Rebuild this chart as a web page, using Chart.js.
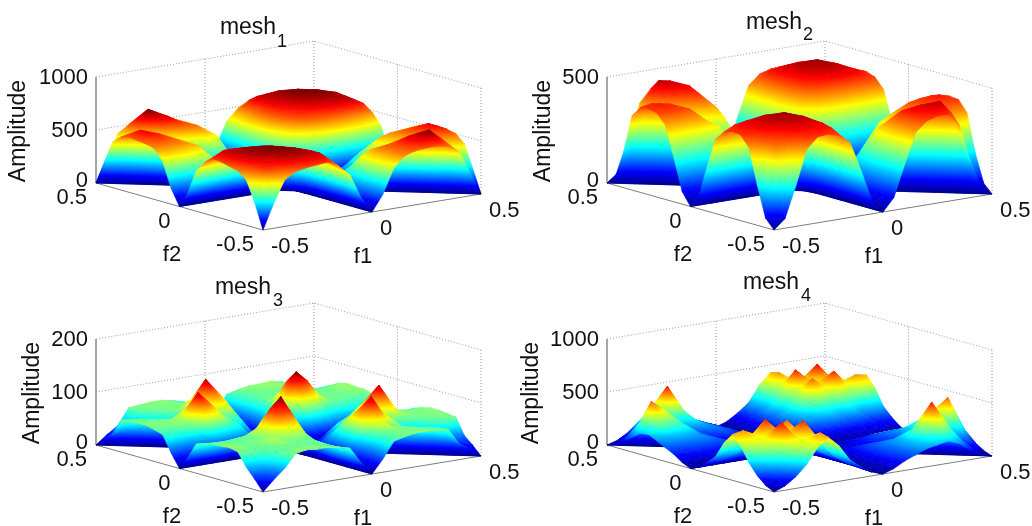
<!DOCTYPE html>
<html>
<head>
<meta charset="utf-8">
<title>mesh</title>
<script src="https://cdn.jsdelivr.net/npm/chart.js@4/dist/chart.umd.min.js"></script>
<style>
  html, body { margin: 0; background: #fff; overflow: hidden; }
  canvas { position: absolute; }
</style>
</head>
<body>
<script>
// distance from the valley (|f1| on rows, |f2| on columns)
const fGrid = [0, 0.05, 0.1, 0.15, 0.2, 0.25, 0.3, 0.35, 0.4, 0.45, 0.5];
const f1Ticks = [-0.5, 0, 0.5];
const f2Ticks = [-0.5, 0, 0.5];
const mesh1Ticks = [0, 500, 1000];
const mesh2Ticks = [0, 500];
const mesh3Ticks = [0, 100, 200];
const mesh4Ticks = [0, 500, 1000];

// "Front": f1 and f2 same sign, "Side": opposite sign (zero along its diagonal)
const mesh1Front = [
  [0,0,0,0,0,0,0,0,0,0,0],
  [0,40,90,150,180,190,200,200,190,170,150],
  [0,90,220,330,390,420,430,430,420,400,380],
  [0,150,330,440,490,510,520,520,510,500,480],
  [0,180,390,490,540,550,570,590,600,600,540],
  [0,190,420,510,550,590,610,625,630,610,530],
  [0,200,430,520,570,610,635,650,645,620,520],
  [0,200,430,520,590,625,650,650,640,600,500],
  [0,190,420,510,600,630,645,640,600,560,440],
  [0,170,400,500,600,610,620,600,560,540,240],
  [0,150,380,480,540,530,510,490,430,240,0]
];
const mesh1Side = [
  [0,0,0,0,0,0,0,0,0,0,0],
  [0,0,40,80,120,160,180,190,190,170,150],
  [0,40,0,130,220,300,400,410,410,400,380],
  [0,80,130,0,180,360,450,490,490,490,480],
  [0,120,220,190,0,200,400,510,530,530,510],
  [0,150,300,340,200,0,240,480,590,590,520],
  [0,170,360,440,400,210,0,260,580,650,520],
  [0,180,390,470,490,420,220,0,260,560,500],
  [0,180,400,480,520,540,470,240,0,300,430],
  [0,170,400,490,530,570,570,480,260,0,220],
  [0,150,380,480,500,510,520,500,430,220,0]
];
const mesh2Front = [
  [0,0,0,0,0,0,0,0,0,0,0],
  [0,15,40,60,70,75,75,75,70,65,60],
  [0,40,100,160,190,205,210,210,205,205,210],
  [0,60,160,260,320,345,350,355,355,350,350],
  [0,70,190,320,390,415,425,430,430,420,395],
  [0,75,205,345,415,445,455,460,450,430,410],
  [0,75,210,350,425,455,475,470,455,425,405],
  [0,75,210,355,430,460,470,470,445,415,355],
  [0,70,205,355,430,450,455,445,420,390,190],
  [0,65,205,350,420,430,425,415,390,370,45],
  [0,60,210,350,395,410,405,355,190,45,0]
];
const mesh2Side = [
  [0,0,0,0,0,0,0,0,0,0,0],
  [0,0,40,60,70,75,75,75,70,65,60],
  [0,40,0,110,160,190,205,210,205,205,210],
  [0,60,110,0,190,300,340,355,355,350,350],
  [0,70,160,190,0,200,350,410,430,420,395],
  [0,75,190,300,200,0,220,380,440,450,410],
  [0,75,205,330,340,220,0,240,430,460,410],
  [0,75,210,345,390,370,240,0,250,400,350],
  [0,70,205,350,400,410,380,230,0,240,170],
  [0,65,205,350,405,420,410,350,200,0,40],
  [0,60,210,350,395,405,400,350,170,40,0]
];
const mesh3Front = [
  [0,0,0,0,0,0,0,0,0,0,0],
  [0,8,20,26,26,25,22,20,20,22,25],
  [0,20,48,75,70,52,50,50,50,52,55],
  [0,26,75,125,105,75,62,60,58,58,60],
  [0,26,70,105,100,72,62,60,60,62,64],
  [0,25,52,75,72,68,64,62,60,64,64],
  [0,22,50,62,62,64,70,62,60,64,66],
  [0,20,50,60,60,62,62,60,58,60,62],
  [0,20,50,58,60,60,60,58,50,42,38],
  [0,22,52,58,62,64,64,60,42,25,20],
  [0,25,55,60,64,64,66,62,38,20,0]
];
const mesh3Side = [
  [0,0,0,0,0,0,0,0,0,0,0],
  [0,0,16,24,26,28,26,22,20,22,25],
  [0,16,0,45,65,80,85,60,50,52,55],
  [0,24,50,0,70,95,118,80,62,60,60],
  [0,26,60,70,0,65,85,66,62,62,64],
  [0,28,75,95,65,0,45,60,62,62,64],
  [0,26,80,116,85,50,0,40,58,62,62],
  [0,22,55,68,66,60,40,0,40,58,60],
  [0,20,50,62,62,62,58,40,0,30,30],
  [0,22,52,60,62,62,62,58,30,0,16],
  [0,25,55,60,64,64,62,60,30,16,0]
];
const mesh4Front = [
  [0,0,0,0,0,0,0,0,0,0,0],
  [0,20,40,50,50,50,50,50,45,40,35],
  [0,40,80,110,120,125,120,115,105,95,100],
  [0,50,110,170,190,220,190,220,180,190,180],
  [0,50,120,190,290,340,310,340,300,320,330],
  [0,50,125,220,340,480,400,520,400,450,430],
  [0,50,120,190,310,400,380,420,360,380,350],
  [0,50,115,220,340,520,420,540,380,330,210],
  [0,45,105,180,300,400,360,380,290,190,110],
  [0,40,95,190,320,450,380,330,190,90,40],
  [0,35,100,180,330,430,350,210,110,40,0]
];
const mesh4Side = [
  [0,0,0,0,0,0,0,0,0,0,0],
  [0,0,30,50,50,50,50,50,45,40,35],
  [0,30,0,60,90,105,110,110,105,95,90],
  [0,50,60,0,90,130,150,150,150,140,130],
  [0,50,90,90,0,100,170,190,200,190,170],
  [0,50,105,130,100,0,130,270,320,260,190],
  [0,50,110,150,170,130,0,220,530,360,210],
  [0,50,110,150,190,270,220,0,240,280,170],
  [0,45,105,150,200,300,400,230,0,160,90],
  [0,40,95,140,190,320,480,300,160,0,30],
  [0,35,90,130,170,210,200,140,80,30,0]
];

// view of the box in pixels: the front floor corner and where each axis goes from it
const WIDTH = 521, HEIGHT = 272;
const ORIGIN_X = 263, ORIGIN_Y = 230;
const F1_DX = 218, F1_DY = 36, F2_DX = 167, F2_DY = 47, Z_PX = 106;

const panels = [
  { sub: '1', front: mesh1Front, side: mesh1Side, zTicks: mesh1Ticks, colorTop: 650,
    left: 0, top: 0, title: [248, 28], subPos: [282, 42], amp: 19 },
  { sub: '2', front: mesh2Front, side: mesh2Side, zTicks: mesh2Ticks, colorTop: 490,
    left: 511, top: 0, title: [263, 23], subPos: [297, 35], amp: 33 },
  { sub: '3', front: mesh3Front, side: mesh3Side, zTicks: mesh3Ticks, colorTop: 125,
    left: 0, top: 262, title: [243, 26], subPos: [278, 39], amp: 33 },
  { sub: '4', front: mesh4Front, side: mesh4Side, zTicks: mesh4Ticks, colorTop: 620,
    left: 511, top: 262, title: [260, 21], subPos: [295, 34], amp: 21 }
];

const JET = [[0, '#00008f'], [0.125, '#0000ff'], [0.375, '#00ffff'], [0.625, '#ffff00'], [0.875, '#ff0000'], [1, '#800000']];
const FONT = '"Liberation Sans", Arial, sans-serif';

function jetSolid(t) {
  t = Math.min(1, Math.max(0, t));
  let k = 1;
  while (k < JET.length - 1 && JET[k][0] < t) k++;
  const hex = s => [1, 3, 5].map(p => parseInt(s.substr(p, 2), 16));
  const a = hex(JET[k - 1][1]), b = hex(JET[k][1]);
  const u = (t - JET[k - 1][0]) / (JET[k][0] - JET[k - 1][0]);
  return `rgb(${a.map((v, n) => Math.round(v + (b[n] - v) * u)).join(',')})`;
}

// a linear gradient is exact colour interpolation across a triangle
function triangleColor(context) {
  const { chart, dataset } = context;
  const xs = dataset.data.map(p => chart.scales.x.getPixelForValue(p.x));
  const ys = dataset.data.map(p => chart.scales.y.getPixelForValue(p.y));
  const zs = dataset.heights, top = dataset.colorTop;
  const mean = (zs[0] + zs[1] + zs[2]) / 3;
  if (!chart.chartArea || !xs.concat(ys).every(Number.isFinite)) return jetSolid(mean / top);
  const det = (xs[1] - xs[0]) * (ys[2] - ys[0]) - (xs[2] - xs[0]) * (ys[1] - ys[0]);
  if (Math.abs(det) < 0.5) return jetSolid(mean / top);
  const a = ((zs[1] - zs[0]) * (ys[2] - ys[0]) - (zs[2] - zs[0]) * (ys[1] - ys[0])) / det;
  const b = ((xs[1] - xs[0]) * (zs[2] - zs[0]) - (xs[2] - xs[0]) * (zs[1] - zs[0])) / det;
  const g = a * a + b * b;
  if (g < 1e-7) return jetSolid(mean / top);
  const grad = chart.ctx.createLinearGradient(
    xs[0] - zs[0] * a / g, ys[0] - zs[0] * b / g,
    xs[0] + (top - zs[0]) * a / g, ys[0] + (top - zs[0]) * b / g);
  JET.forEach(s => grad.addColorStop(s[0], s[1]));
  return grad;
}

function heightAt(panel, i, j) {
  const table = (i < 0) === (j < 0) ? panel.front : panel.side;
  return table[Math.abs(i)][Math.abs(j)];
}

function buildDatasets(panel) {
  const zTop = panel.zTicks[panel.zTicks.length - 1];
  // chart x is in f1 units from the front corner, chart y is in amplitude above it
  const project = (f1, f2, z) => ({
    x: (f1 + 0.5) - (f2 + 0.5) * F2_DX / F1_DX,
    y: z + ((f1 + 0.5) * F1_DY + (f2 + 0.5) * F2_DY) * zTop / Z_PX
  });
  const rule = (points, color, width, dash) => ({
    data: points, borderColor: color, borderWidth: width, borderDash: dash, fill: false
  });
  const layers = [];

  panel.zTicks.forEach(z => {
    layers.push(rule([project(-0.5, 0.5, z), project(0.5, 0.5, z), project(0.5, -0.5, z)], '#9a9a9a', 1, [1, 2]));
  });
  [[0, 0.5], [0.5, 0.5], [0.5, 0], [0.5, -0.5]].forEach(p => {
    layers.push(rule([project(p[0], p[1], 0), project(p[0], p[1], zTop)], '#9a9a9a', 1, [1, 2]));
  });
  layers.push(rule([project(0, -0.5, 0), project(0, 0.5, 0)], '#9a9a9a', 1, [1, 2]));
  layers.push(rule([project(-0.5, 0, 0), project(0.5, 0, 0)], '#9a9a9a', 1, [1, 2]));
  layers.push(rule([project(-0.5, 0.5, 0), project(-0.5, 0.5, zTop)], '#a6a6a6', 2, [1000, 1]));
  layers.push(rule([project(-0.5, 0.5, 0), project(-0.5, -0.5, 0), project(0.5, -0.5, 0)], '#7d7d7d', 1, [1000, 1]));

  // far cells first, so nearer ones paint over them
  const n = fGrid.length - 1;
  const fOf = i => (i < 0 ? -fGrid[-i] : fGrid[i]);
  for (let i = n; i > -n; i--) {
    for (let j = n; j > -n; j--) {
      const corners = [[i, j], [i - 1, j], [i - 1, j - 1], [i, j - 1]];
      [[0, 1, 3], [1, 2, 3]].forEach(tri => {
        const cells = tri.map(k => corners[k]);
        const heights = cells.map(c => heightAt(panel, c[0], c[1]));
        const points = cells.map((c, k) => project(fOf(c[0]), fOf(c[1]), heights[k]));
        points.push(points[0]);
        layers.push({
          data: points,
          heights: heights,
          colorTop: panel.colorTop,
          fill: 'shape',
          backgroundColor: triangleColor,
          borderColor: triangleColor,
          borderWidth: 0.7,
          borderDash: [1000, 1]
        });
      });
    }
  }
  // Chart.js paints dataset 0 last
  return layers.reverse();
}

const textPlugin = {
  id: 'meshText',
  afterDatasetsDraw(chart, args, opts) {
    const { ctx, scales } = chart;
    const panel = opts.panel;
    const zTop = panel.zTicks[panel.zTicks.length - 1];
    const px = (f1, f2, z) => [
      scales.x.getPixelForValue((f1 + 0.5) - (f2 + 0.5) * F2_DX / F1_DX),
      scales.y.getPixelForValue(z + ((f1 + 0.5) * F1_DY + (f2 + 0.5) * F2_DY) * zTop / Z_PX)
    ];
    const put = (text, x, y, align, size) => {
      ctx.font = `${size}px ${FONT}`;
      ctx.textAlign = align;
      ctx.textBaseline = 'middle';
      ctx.fillText(text, x, y);
    };
    ctx.save();
    ctx.fillStyle = '#111';
    panel.zTicks.forEach(z => {
      const p = px(-0.5, 0.5, z);
      put(String(z), p[0] - 8, p[1] + (z === 0 ? -2 : 1), 'right', 22);
    });
    f1Ticks.forEach(v => {
      const p = px(v, -0.5, 0);
      put(String(v), p[0] + 8, p[1] + 17, 'left', 22);
    });
    f2Ticks.forEach(v => {
      const p = px(-0.5, v, 0);
      put(String(v), p[0] - 9, p[1] + 15, 'right', 22);
    });
    put('f2', 172, 255, 'center', 22);
    put('f1', 363, 257, 'center', 22);
    put('mesh', panel.title[0], panel.title[1], 'center', 23);
    put(panel.sub, panel.subPos[0], panel.subPos[1], 'center', 18);
    ctx.translate(panel.amp, 131);
    ctx.rotate(-Math.PI / 2);
    put('Amplitude', 0, 0, 'center', 23);
    ctx.restore();
  }
};

panels.forEach(panel => {
  const canvas = document.createElement('canvas');
  canvas.width = WIDTH;
  canvas.height = HEIGHT;
  canvas.style.left = panel.left + 'px';
  canvas.style.top = panel.top + 'px';
  document.body.appendChild(canvas);
  const zTop = panel.zTicks[panel.zTicks.length - 1];
  new Chart(canvas.getContext('2d'), {
    type: 'line',
    data: { datasets: buildDatasets(panel) },
    plugins: [textPlugin],
    options: {
      responsive: false,
      animation: false,
      events: [],
      layout: { padding: 0 },
      elements: { point: { radius: 0 }, line: { tension: 0 } },
      plugins: { legend: { display: false }, tooltip: { enabled: false }, meshText: { panel: panel } },
      scales: {
        x: { type: 'linear', display: false, min: -ORIGIN_X / F1_DX, max: (WIDTH - ORIGIN_X) / F1_DX },
        y: { type: 'linear', display: false,
             min: -(HEIGHT - ORIGIN_Y) * zTop / Z_PX, max: ORIGIN_Y * zTop / Z_PX }
      }
    }
  });
});
</script>
</body>
</html>
